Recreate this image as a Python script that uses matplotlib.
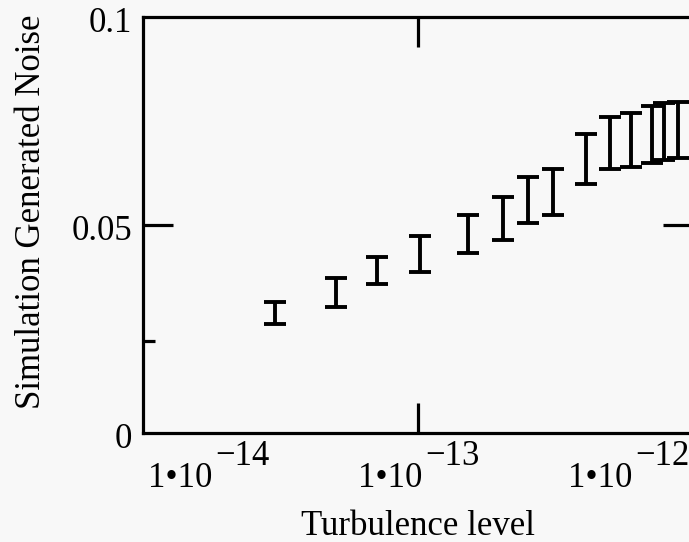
import numpy as np
import matplotlib
matplotlib.use('Agg')
import matplotlib.pyplot as plt

# turbulence level (x) and the low / high end of each error bar
turbulence = [2.08e-14, 4.07e-14, 6.38e-14, 1.02e-13, 1.73e-13, 2.54e-13, 3.34e-13,
              4.40e-13, 6.31e-13, 8.2e-13, 1.03e-12, 1.30e-12, 1.48e-12, 1.73e-12]
noise_low = [0.0262, 0.0303, 0.0358, 0.0387, 0.0433, 0.0464, 0.0505,
             0.0524, 0.0599, 0.0635, 0.0639, 0.0649, 0.0656, 0.0661]
noise_high = [0.0315, 0.0373, 0.0423, 0.0474, 0.0524, 0.0567, 0.0615,
              0.0635, 0.0719, 0.0760, 0.0769, 0.0786, 0.0793, 0.0796]

y_ticks = [0, 0.05, 0.1]
y_labels = ['0', '0.05', '0.1']
x_decades = [-14, -13, -12]

plt.rcParams['font.family'] = ['Liberation Serif', 'DejaVu Serif']
bg = '#f8f8f8'

fig = plt.figure(figsize=(6.89, 5.42), dpi=100, facecolor=bg)
ax = fig.add_axes([143/689, (542-433)/542, (693-143)/689, (433-17)/542])
ax.set_facecolor(bg)

low = np.array(noise_low)
high = np.array(noise_high)
mid = (low + high) / 2
ax.errorbar(turbulence, mid, yerr=[mid - low, high - mid], fmt='none',
            ecolor='black', elinewidth=2.8, capsize=7.6, capthick=2.8)

ax.set_xscale('log')
ax.set_xlim(10**-14.31, 10**-11.69)
ax.set_ylim(0, 0.1)

for s in ax.spines.values():
    s.set_linewidth(2.3)

ax.set_xticks([1e-13])
ax.set_xticks([], minor=True)
ax.set_yticks([0.05])
ax.set_yticks([0.022], minor=True)
ax.tick_params(axis='both', which='major', direction='in', length=21.5, width=2.3,
               top=True, right=True, labelbottom=False, labelleft=False)
ax.tick_params(axis='y', which='minor', direction='in', length=8.6, width=2.3,
               left=True, right=False, labelleft=False)

# y tick labels, Mathcad style
for v, lab in zip(y_ticks, y_labels):
    ax.annotate(lab, xy=(0, v), xycoords=('axes fraction', 'data'),
                xytext=(-8, -5), textcoords='offset points',
                ha='right', va='center', fontsize=25)

# x tick labels as 1•10 with raised exponent
for d in x_decades:
    ax.annotate('1\u202210', xy=(10.0**d, 0), xycoords=('data', 'axes fraction'),
                xytext=(3, -39), textcoords='offset points',
                ha='right', va='baseline', fontsize=25, annotation_clip=False)
    ax.annotate('\u2212' + str(-d), xy=(10.0**d, 0), xycoords=('data', 'axes fraction'),
                xytext=(5, -23), textcoords='offset points',
                ha='left', va='baseline', fontsize=25, annotation_clip=False)

fig.text(418/689, 1 - 535/542, 'Turbulence level', ha='center', va='baseline', fontsize=25)
fig.text(32/689, 1 - 212/542, 'Simulation Generated Noise', ha='center', va='center',
         rotation=90, fontsize=25)

fig.savefig('out.png', dpi=100, facecolor=bg)
